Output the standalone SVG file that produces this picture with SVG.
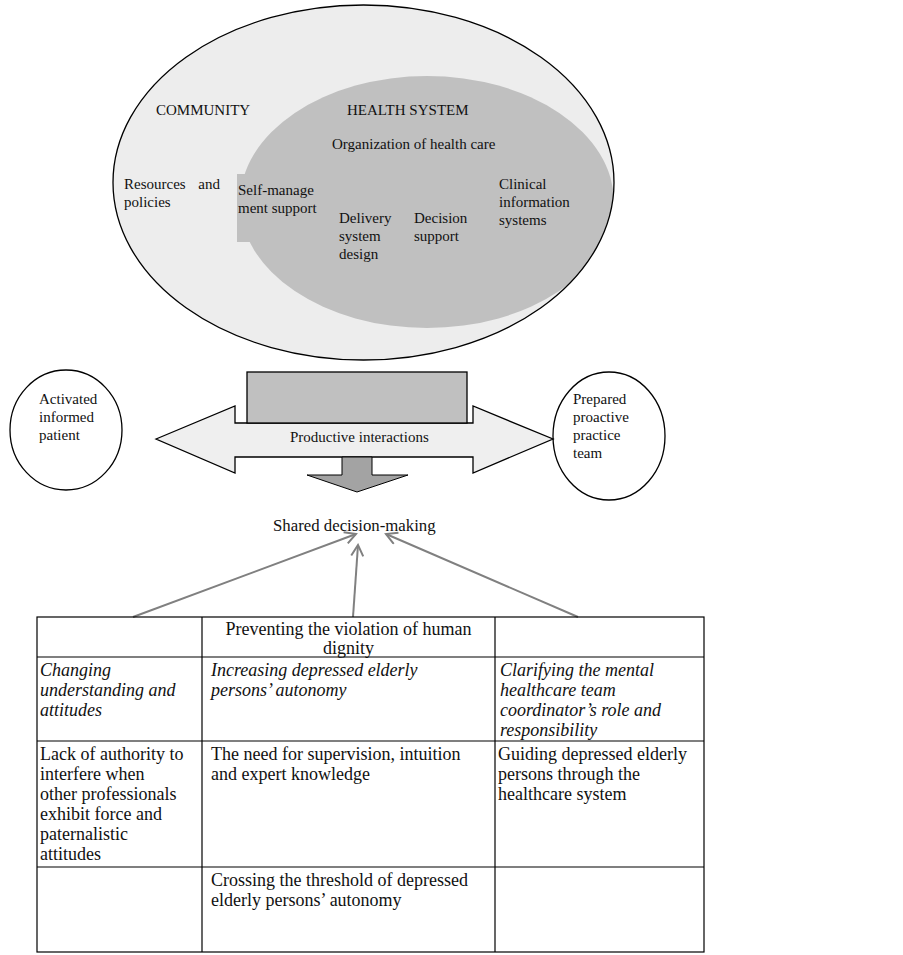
<svg xmlns="http://www.w3.org/2000/svg" width="903" height="955" viewBox="0 0 903 955">
<style>
text{font-family:"Liberation Serif","Times New Roman",serif;fill:#111;}
.t15{font-size:15px;}
.t16{font-size:18px;}
.it{font-style:italic;}
.ln{stroke:#000;stroke-width:1.2;fill:none;}
.conn{stroke:#808080;stroke-width:2;fill:none;}
</style>
<defs>
<clipPath id="outerClip"><ellipse cx="363.5" cy="182.5" rx="250.5" ry="177.5"/></clipPath>
<marker id="vhead" viewBox="0 0 14 14" refX="12" refY="7" markerWidth="14" markerHeight="14" markerUnits="userSpaceOnUse" orient="auto">
<path d="M1,1 L12,7 L1,13" fill="none" stroke="#808080" stroke-width="2"/>
</marker>
</defs>
<rect width="903" height="955" fill="#fff"/>

<g id="community">
<ellipse cx="363.5" cy="182.5" rx="250.5" ry="177.5" fill="#ededed"/>
<g clip-path="url(#outerClip)">
<ellipse id="health-system" cx="427" cy="202" rx="187" ry="126" fill="#c0c0c0"/>
<rect x="237" y="174" width="24" height="68" fill="#c0c0c0"/>
</g>
<ellipse cx="363.5" cy="182.5" rx="250.5" ry="177.5" fill="none" stroke="#000" stroke-width="1.3"/>
<text class="t15" x="156" y="115">COMMUNITY</text>
<text class="t15" x="347" y="115">HEALTH SYSTEM</text>
<text class="t15" x="332" y="149">Organization of health care</text>
<text class="t15" x="124" y="189">Resources</text>
<text class="t15" x="220" y="189" text-anchor="end">and</text>
<text class="t15" x="124" y="207">policies</text>
<text class="t15" x="238" y="195">Self-manage</text>
<text class="t15" x="238" y="213">ment support</text>
<text class="t15" x="339" y="223">Delivery</text>
<text class="t15" x="339" y="241">system</text>
<text class="t15" x="339" y="259">design</text>
<text class="t15" x="414" y="223">Decision</text>
<text class="t15" x="414" y="241">support</text>
<text class="t15" x="499" y="189">Clinical</text>
<text class="t15" x="499" y="207">information</text>
<text class="t15" x="499" y="225">systems</text>
</g>

<g id="patient">
<ellipse cx="66" cy="430" rx="56" ry="60" fill="#fff" stroke="#000" stroke-width="1.3"/>
<text class="t15" x="39" y="404">Activated</text>
<text class="t15" x="39" y="422">informed</text>
<text class="t15" x="39" y="440">patient</text>
</g>

<g id="team">
<ellipse cx="609" cy="436" rx="56" ry="64" fill="#fff" stroke="#000" stroke-width="1.3"/>
<text class="t15" x="573" y="404">Prepared</text>
<text class="t15" x="573" y="422">proactive</text>
<text class="t15" x="573" y="440">practice</text>
<text class="t15" x="573" y="458">team</text>
</g>

<g id="interactions">
<polygon points="156,439 235,406 235,423 473,423 473,406 553,439 473,473 473,457 235,457 235,473" fill="#efefef" stroke="#000" stroke-width="1.3"/>
<rect x="247" y="372" width="220" height="51" fill="#c0c0c0" stroke="#000" stroke-width="1.3"/>
<text class="t15" x="290" y="442">Productive interactions</text>
<polygon points="342,457 372,457 372,475 408,475 357,492 307,475 342,475" fill="#a3a3a3" stroke="#000" stroke-width="1"/>
</g>

<g id="shared">
<text x="273" y="531" style="font-size:16.8px">Shared decision-making</text>
</g>

<g id="connectors">
<line class="conn" x1="133" y1="617" x2="356" y2="534" marker-end="url(#vhead)"/>
<line class="conn" x1="353" y1="617" x2="358" y2="545" marker-end="url(#vhead)"/>
<line class="conn" x1="578" y1="617" x2="386" y2="534" marker-end="url(#vhead)"/>
</g>

<g id="table">
<rect class="ln" x="37" y="617" width="667" height="335"/>
<line class="ln" x1="202" y1="617" x2="202" y2="952"/>
<line class="ln" x1="495" y1="617" x2="495" y2="952"/>
<line class="ln" x1="37" y1="657" x2="704" y2="657"/>
<line class="ln" x1="37" y1="741" x2="704" y2="741"/>
<line class="ln" x1="37" y1="867" x2="704" y2="867"/>

<text class="t16" x="348.5" y="635" text-anchor="middle">Preventing the violation of human</text>
<text class="t16" x="348.5" y="654" text-anchor="middle">dignity</text>

<text class="t16 it" x="40" y="676">Changing</text>
<text class="t16 it" x="40" y="696">understanding and</text>
<text class="t16 it" x="40" y="716">attitudes</text>

<text class="t16 it" x="211" y="676">Increasing depressed elderly</text>
<text class="t16 it" x="211" y="696">persons’ autonomy</text>

<text class="t16 it" x="500" y="676">Clarifying the mental</text>
<text class="t16 it" x="500" y="696">healthcare team</text>
<text class="t16 it" x="500" y="716">coordinator’s role and</text>
<text class="t16 it" x="500" y="736">responsibility</text>

<text class="t16" x="40" y="760">Lack of authority to</text>
<text class="t16" x="40" y="780">interfere when</text>
<text class="t16" x="40" y="800">other professionals</text>
<text class="t16" x="40" y="820">exhibit force and</text>
<text class="t16" x="40" y="840">paternalistic</text>
<text class="t16" x="40" y="860">attitudes</text>

<text class="t16" x="211" y="760">The need for supervision, intuition</text>
<text class="t16" x="211" y="780">and expert knowledge</text>

<text class="t16" x="498" y="760">Guiding depressed elderly</text>
<text class="t16" x="498" y="780">persons through the</text>
<text class="t16" x="498" y="800">healthcare system</text>

<text class="t16" x="211" y="886">Crossing the threshold of depressed</text>
<text class="t16" x="211" y="906">elderly persons’ autonomy</text>
</g>
</svg>
